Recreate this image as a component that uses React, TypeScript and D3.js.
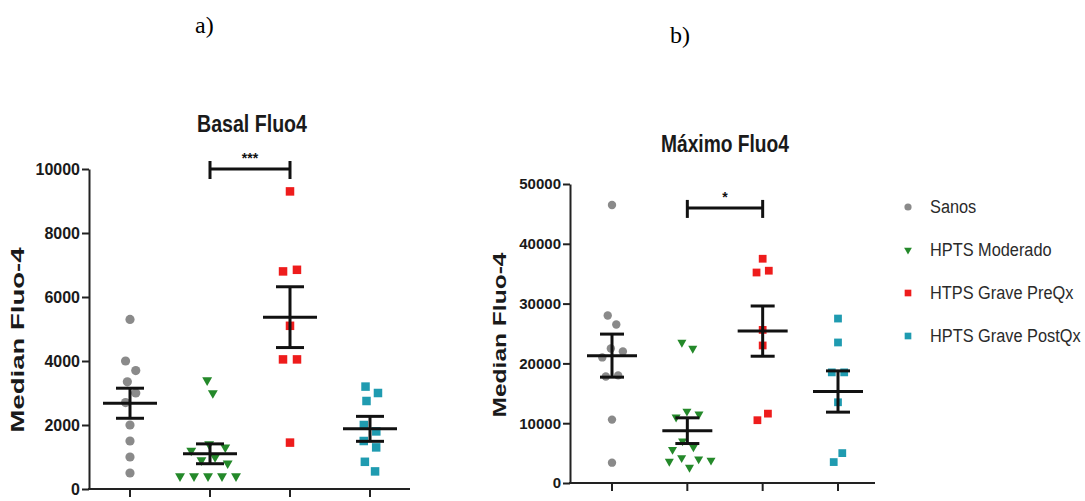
import React, { useRef, useEffect } from 'react';
import * as d3 from 'd3';

const categories = ['Sanos', 'HPTS Moderado', 'HTPS Grave PreQx', 'HPTS Grave PostQx'];
const colors = ['#8a8a8a', '#24892a', '#ee1c1c', '#1f9bb0'];
const shapes = ['circle', 'triangle', 'square', 'square'];

// a) Basal Fluo4
const basalSanos = [5300, 4000, 3700, 3350, 3000, 2700, 2000, 1500, 1000, 500];
const basalModerado = [3400, 3000, 1400, 1300, 1200, 1000, 900, 800, 400, 400, 400, 400, 400];
const basalPreQx = [9300, 6800, 6850, 5100, 4050, 4050, 1450];
const basalPostQx = [3200, 3000, 2750, 2000, 1800, 1500, 1300, 850, 550];
const basalMean = [2680, 1100, 5370, 1880];
const basalSem = [470, 310, 950, 390];
const basalTicks = [0, 2000, 4000, 6000, 8000, 10000];

// b) Máximo Fluo4
const maxSanos = [46500, 28000, 26500, 22500, 22000, 21000, 18000, 17800, 10600, 3400];
const maxModerado = [23500, 22500, 12000, 11500, 11000, 7000, 6000, 4200, 4000, 3800, 3600, 5600, 2600];
const maxPreQx = [37500, 35500, 35200, 25600, 23000, 10500, 11600];
const maxPostQx = [27500, 23500, 18500, 18500, 13500, 5000, 3500];
const maxMean = [21300, 8750, 25400, 15300];
const maxSem = [3600, 2150, 4200, 3450];
const maxTicks = [0, 10000, 20000, 30000, 40000, 50000];

const panels = [
  {
    title: 'Basal Fluo4', titleX: 252, titleY: 132, titleLen: 110,
    tag: 'a)', tagX: 195, tagY: 33,
    groups: [basalSanos, basalModerado, basalPreQx, basalPostQx],
    mean: basalMean, sem: basalSem, ticks: basalTicks,
    axisX: 89, axisEnd: 410, yTop: 169, yBottom: 489,
    xFirst: 130, xLast: 370, tickFont: 16,
    labelX: 24, labelY: 340, labelLen: 185,
    sig: [1, 2], sigValue: 10000, sigText: '***',
    markR: 4.6, meanHalf: 27, semHalf: 14, collide: 7,
  },
  {
    title: 'Máximo Fluo4', titleX: 725, titleY: 152, titleLen: 128,
    tag: 'b)', tagX: 670, tagY: 43,
    groups: [maxSanos, maxModerado, maxPreQx, maxPostQx],
    mean: maxMean, sem: maxSem, ticks: maxTicks,
    axisX: 570, axisEnd: 875, yTop: 184, yBottom: 483,
    xFirst: 612, xLast: 838, tickFont: 15,
    labelX: 506, labelY: 335, labelLen: 165,
    sig: [1, 2], sigValue: 46000, sigText: '*',
    markR: 4.2, meanHalf: 25, semHalf: 12, collide: 6.2,
  },
];

const symbolPath = (shape: string, r: number) => {
  if (shape === 'circle') return d3.symbol(d3.symbolCircle, Math.PI * r * r)();
  if (shape === 'square') return d3.symbol(d3.symbolSquare, (r * 1.85) ** 2)();
  return d3.symbol(d3.symbolTriangle, r * r * 2)();
};

const App = () => {
  const svgRef = useRef<SVGSVGElement>(null);

  useEffect(() => {
    const svg = d3.select(svgRef.current);
    svg.selectAll('*').remove();

    panels.forEach(p => {
      const g = svg.append('g');
      const y = d3.scaleLinear().domain([0, p.ticks[p.ticks.length - 1]]).range([p.yBottom, p.yTop]);
      const x = d3.scalePoint().domain(categories).range([p.xFirst, p.xLast]);

      // panel tag
      g.append('text').attr('x', p.tagX).attr('y', p.tagY)
        .attr('font-family', '"Liberation Serif", "Times New Roman", serif')
        .attr('font-size', 24).attr('fill', '#000').text(p.tag);

      // title
      g.append('text').attr('x', p.titleX).attr('y', p.titleY)
        .attr('text-anchor', 'middle')
        .attr('font-family', '"Liberation Sans", Arial, sans-serif')
        .attr('font-weight', 'bold').attr('font-size', 23).attr('fill', '#1a1a1a')
        .attr('textLength', p.titleLen).attr('lengthAdjust', 'spacingAndGlyphs')
        .text(p.title);

      // y axis
      const yAxis = g.append('g').attr('transform', `translate(${p.axisX},0)`)
        .call(d3.axisLeft(y).tickValues(p.ticks).tickFormat(d3.format('d')).tickSize(7).tickSizeOuter(0).tickPadding(2));
      yAxis.select('.domain').attr('stroke', '#222').attr('stroke-width', 2);
      yAxis.selectAll('.tick line').attr('stroke', '#222').attr('stroke-width', 2);
      yAxis.selectAll('.tick text')
        .attr('font-family', '"Liberation Sans", Arial, sans-serif')
        .attr('font-weight', 'bold').attr('font-size', p.tickFont).attr('fill', '#1a1a1a');

      // x axis
      g.append('line').attr('x1', p.axisX - 1).attr('x2', p.axisEnd)
        .attr('y1', y(0)).attr('y2', y(0)).attr('stroke', '#222').attr('stroke-width', 2);
      g.selectAll('.xtick').data(categories).enter().append('line')
        .attr('x1', d => x(d)!).attr('x2', d => x(d)!)
        .attr('y1', y(0)).attr('y2', y(0) + 8)
        .attr('stroke', '#222').attr('stroke-width', 2);

      // y label
      g.append('text')
        .attr('transform', `translate(${p.labelX},${p.labelY}) rotate(-90)`)
        .attr('text-anchor', 'middle')
        .attr('font-family', '"Liberation Sans", Arial, sans-serif')
        .attr('font-weight', 'bold').attr('font-size', 19).attr('fill', '#1a1a1a')
        .attr('textLength', p.labelLen).attr('lengthAdjust', 'spacingAndGlyphs')
        .text('Median Fluo-4');

      // points, spread like a swarm
      p.groups.forEach((vals, i) => {
        const cx = x(categories[i])!;
        const nodes = vals.map(v => ({ x: cx, y: y(v), fy: y(v) } as any));
        const sim = d3.forceSimulation(nodes)
          .force('x', d3.forceX(cx).strength(0.06))
          .force('collide', d3.forceCollide(p.collide))
          .stop();
        for (let k = 0; k < 300; k++) sim.tick();
        const path = symbolPath(shapes[i], p.markR);
        g.selectAll(null).data(nodes).enter().append('path')
          .attr('d', path)
          .attr('transform', (d: any) => `translate(${d.x},${d.fy})${shapes[i] === 'triangle' ? ' rotate(180)' : ''}`)
          .attr('fill', colors[i]);
      });

      // mean and SEM
      categories.forEach((c, i) => {
        const cx = x(c)!;
        const m = p.mean[i], s = p.sem[i];
        const mg = g.append('g').attr('stroke', '#111').attr('stroke-width', 3);
        mg.append('line').attr('x1', cx - p.meanHalf).attr('x2', cx + p.meanHalf).attr('y1', y(m)).attr('y2', y(m));
        mg.append('line').attr('x1', cx - p.semHalf).attr('x2', cx + p.semHalf).attr('y1', y(m + s)).attr('y2', y(m + s));
        mg.append('line').attr('x1', cx - p.semHalf).attr('x2', cx + p.semHalf).attr('y1', y(m - s)).attr('y2', y(m - s));
        mg.append('line').attr('x1', cx).attr('x2', cx).attr('y1', y(m + s)).attr('y2', y(m - s));
      });

      // significance bar
      const sx1 = x(categories[p.sig[0]])!, sx2 = x(categories[p.sig[1]])!;
      const sy = y(p.sigValue);
      const sg = g.append('g').attr('stroke', '#111').attr('stroke-width', 3);
      sg.append('line').attr('x1', sx1).attr('x2', sx2).attr('y1', sy).attr('y2', sy);
      sg.append('line').attr('x1', sx1).attr('x2', sx1).attr('y1', sy - 8).attr('y2', sy + 10);
      sg.append('line').attr('x1', sx2).attr('x2', sx2).attr('y1', sy - 8).attr('y2', sy + 10);
      g.append('text').attr('x', (sx1 + sx2) / 2).attr('y', sy - 6)
        .attr('text-anchor', 'middle')
        .attr('font-family', '"Liberation Sans", Arial, sans-serif')
        .attr('font-weight', 'bold').attr('font-size', 14).attr('fill', '#111')
        .text(p.sigText);
    });

    // legend (condensed look: Liberation Sans squeezed horizontally)
    const legend = svg.append('g');
    categories.forEach((c, i) => {
      const ly = 207 + i * 43;
      legend.append('path')
        .attr('d', symbolPath(shapes[i], 3.6))
        .attr('transform', `translate(908,${ly})${shapes[i] === 'triangle' ? ' rotate(180)' : ''}`)
        .attr('fill', colors[i]);
      legend.append('text')
        .attr('transform', `translate(930,${ly + 6}) scale(0.86,1)`)
        .attr('font-family', '"Liberation Sans", Arial, sans-serif')
        .attr('font-size', 19).attr('fill', '#2a2a2a')
        .text(c);
    });
  }, []);

  return (
    <svg ref={svgRef} width={1085} height={501}
      style={{ position: 'absolute', left: 0, top: 0, background: '#fff' }} />
  );
};

export default App;
